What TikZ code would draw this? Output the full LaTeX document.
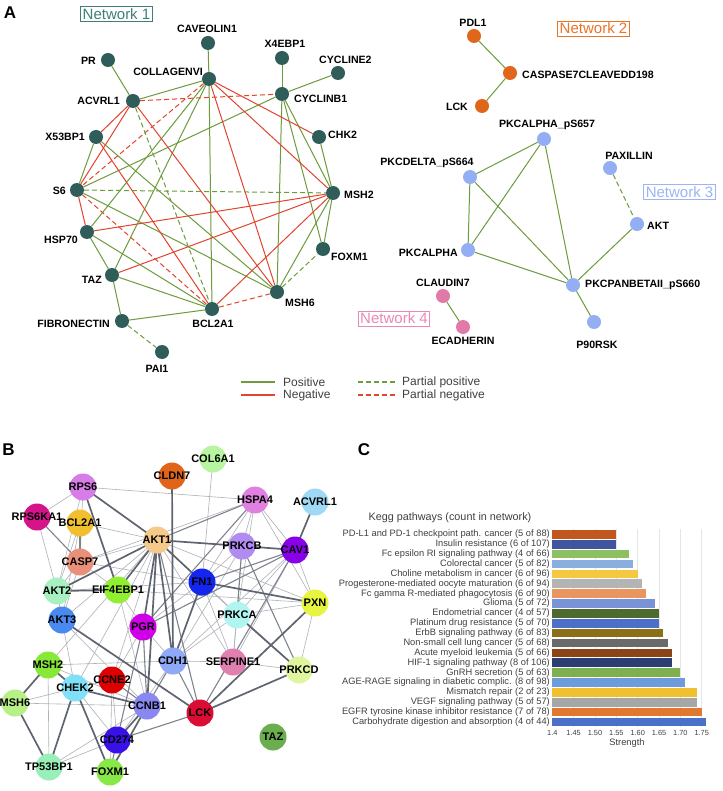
\documentclass[tikz,border=0pt]{standalone}
\usepackage{fontspec}
\setmainfont{Liberation Sans}
\usetikzlibrary{positioning}

\definecolor{tealnode}{HTML}{2F5D5A}
\definecolor{tealtext}{HTML}{3F7F7A}
\definecolor{posgreen}{HTML}{6E9B3C}
\definecolor{negred}{HTML}{E2442E}
\definecolor{orangenode}{HTML}{E0661C}
\definecolor{orangetext}{HTML}{E8742A}
\definecolor{bluenode}{HTML}{93AEF2}
\definecolor{bluetext}{HTML}{9BB5F5}
\definecolor{pinknode}{HTML}{E07BA9}
\definecolor{pinktext}{HTML}{E889B6}
\definecolor{edgegray}{HTML}{5E6470}
\definecolor{bartext}{HTML}{404040}

\tikzset{
  anode/.style={circle, fill={#1}, minimum size=14pt, inner sep=0pt},
  alab/.style={font=\fontsize{10.6}{11}\selectfont\bfseries, inner sep=0pt},
  netbox/.style={draw=#1, text=#1, line width=0.8pt, inner sep=2pt,
    font=\fontsize{15}{16}\selectfont},
  posedge/.style={draw=posgreen, line width=1pt},
  negedge/.style={draw=negred, line width=1pt},
  pposedge/.style={posedge, dash pattern=on 5pt off 3pt},
  pnegedge/.style={negedge, dash pattern=on 5pt off 3pt},
  bnode/.style={circle, fill={#1}, minimum size=27pt, inner sep=0pt},
  blab/.style={font=\fontsize{11}{11}\selectfont\bfseries},
  strong/.style={draw=edgegray, line width=1.7pt},
  mid/.style={draw=edgegray!80, line width=1.1pt},
  weak/.style={draw=edgegray!50, line width=0.6pt},
  panel/.style={font=\fontsize{17}{17}\selectfont\bfseries},
  ctext/.style={font=\fontsize{9.3}{9.3}\selectfont, text=bartext, inner sep=0pt},
  legtext/.style={anchor=west, inner sep=0pt, font=\fontsize{12}{12}\selectfont, text=bartext},
}

\begin{document}
\begin{tikzpicture}[x=1pt,y=-1pt]
  \useasboundingbox (0,0) rectangle (722,791);
  \fill[white] (0,0) rectangle (722,791);

  % ---- A: network 1
  \node[panel] (pa) at (10,12.5) {A};
  \node[netbox=tealtext] (net1) at (116.5,14) {Network 1};
  \node[anode=tealnode] (caveolin) at (208,43) {};
  \node[anode=tealnode] (pr) at (108,60) {};
  \node[anode=tealnode] (collagen) at (209,79) {};
  \node[anode=tealnode] (acvrl) at (133,101) {};
  \node[anode=tealnode] (xebp) at (282,58) {};
  \node[anode=tealnode] (cyclinetwo) at (338,73) {};
  \node[anode=tealnode] (cyclinb) at (282,94) {};
  \node[anode=tealnode] (chk) at (319,137) {};
  \node[anode=tealnode] (xbp) at (96,137) {};
  \node[anode=tealnode] (ssix) at (77,190) {};
  \node[anode=tealnode] (msh) at (333,193) {};
  \node[anode=tealnode] (hsp) at (87,232) {};
  \node[anode=tealnode] (foxm) at (323,249) {};
  \node[anode=tealnode] (taz) at (112,275) {};
  \node[anode=tealnode] (mshsix) at (277,292) {};
  \node[anode=tealnode] (bcl) at (212,309) {};
  \node[anode=tealnode] (fibro) at (122,321) {};
  \node[anode=tealnode] (pai) at (162,352) {};

  \node[alab] (lcaveolin) at (207,29) {CAVEOLIN1};
  \node[alab, anchor=east] (lpr) at (96,61) {PR};
  \node[alab, anchor=east] (lcollagen) at (203,72) {COLLAGENVI};
  \node[alab, anchor=east] (lacvrl) at (120,101) {ACVRL1};
  \node[alab] (lxebp) at (285,44) {X4EBP1};
  \node[alab, anchor=west] (lcyclinetwo) at (319,60) {CYCLINE2};
  \node[alab, anchor=west] (lcyclinb) at (294,99) {CYCLINB1};
  \node[alab, anchor=west] (lchk) at (328,135) {CHK2};
  \node[alab, anchor=east] (lxbp) at (85,137) {X53BP1};
  \node[alab, anchor=east] (lssix) at (66,191) {S6};
  \node[alab, anchor=west] (lmsh) at (344,195) {MSH2};
  \node[alab, anchor=east] (lhsp) at (78,240) {HSP70};
  \node[alab, anchor=west] (lfoxm) at (331,257) {FOXM1};
  \node[alab, anchor=east] (ltaz) at (102,280) {TAZ};
  \node[alab, anchor=west] (lmshsix) at (285,303) {MSH6};
  \node[alab] (lbcl) at (213,324) {BCL2A1};
  \node[alab, anchor=east] (lfibro) at (110,324) {FIBRONECTIN};
  \node[alab] (lpai) at (157,369) {PAI1};

  \draw[posedge] (caveolin) -- (collagen);
  \draw[posedge] (pr) -- (acvrl);
  \draw[posedge] (xebp) -- (cyclinb);
  \draw[posedge] (cyclinetwo) -- (cyclinb);
  \draw[posedge] (cyclinb) -- (ssix);
  \draw[posedge] (cyclinb) -- (mshsix);
  \draw[posedge] (cyclinb) -- (foxm);
  \draw[posedge] (cyclinb) -- (msh);
  \draw[posedge] (chk) -- (msh);
  \draw[posedge] (msh) -- (foxm);
  \draw[posedge] (collagen) -- (acvrl);
  \draw[posedge] (collagen) -- (bcl);
  \draw[posedge] (collagen) -- (hsp);
  \draw[posedge] (collagen) -- (taz);
  \draw[posedge] (xbp) -- (ssix);
  \draw[posedge] (xbp) -- (mshsix);
  \draw[posedge] (ssix) -- (mshsix);
  \draw[posedge] (hsp) -- (taz);
  \draw[posedge] (hsp) -- (bcl);
  \draw[posedge] (taz) -- (bcl);
  \draw[posedge] (taz) -- (fibro);
  \draw[posedge] (fibro) -- (bcl);
  \draw[posedge] (msh) -- (mshsix);
  \draw[negedge] (collagen) -- (chk);
  \draw[negedge] (collagen) -- (msh);
  \draw[negedge] (collagen) -- (mshsix);
  \draw[negedge] (acvrl) -- (xbp);
  \draw[negedge] (acvrl) -- (ssix);
  \draw[negedge] (acvrl) -- (mshsix);
  \draw[negedge] (xbp) -- (bcl);
  \draw[negedge] (ssix) -- (hsp);
  \draw[negedge] (hsp) -- (msh);
  \draw[negedge] (taz) -- (msh);
  \draw[negedge] (bcl) -- (msh);
  \draw[pnegedge] (acvrl) -- (cyclinb);
  \draw[pnegedge] (collagen) -- (ssix);
  \draw[pnegedge] (ssix) -- (bcl);
  \draw[pnegedge] (bcl) -- (mshsix);
  \draw[pposedge] (acvrl) -- (bcl);
  \draw[pposedge] (ssix) -- (msh);
  \draw[pposedge] (mshsix) -- (foxm);
  \draw[pposedge] (fibro) -- (pai);

  % ---- A: networks 2, 3, 4
  \node[netbox=orangetext] (net2) at (593.5,28.5) {Network 2};
  \node[anode=orangenode] (pdl) at (474,36) {};
  \node[anode=orangenode] (caspase) at (510,73) {};
  \node[anode=orangenode] (lck) at (482,106) {};
  \node[alab] (lpdl) at (473,23) {PDL1};
  \node[alab, anchor=west] (lcaspase) at (522,75) {CASPASE7CLEAVEDD198};
  \node[alab, anchor=east] (llck) at (468,107) {LCK};
  \draw[posedge] (pdl) -- (caspase);
  \draw[posedge] (caspase) -- (lck);

  \node[netbox=bluetext] (net3) at (679.5,192) {Network 3};
  \node[anode=bluenode] (pkcapsix) at (544,139) {};
  \node[anode=bluenode] (pkcd) at (470,177) {};
  \node[anode=bluenode] (paxillin) at (610,168) {};
  \node[anode=bluenode] (akt) at (637,224) {};
  \node[anode=bluenode] (pkca) at (468,250) {};
  \node[anode=bluenode] (pkcpan) at (573,285) {};
  \node[anode=bluenode] (prsk) at (594,322) {};
  \node[alab] (lpkcapsix) at (547,125) {PKCALPHA\_pS657};
  \node[alab] (lpkcd) at (427,163) {PKCDELTA\_pS664};
  \node[alab] (lpaxillin) at (629,156) {PAXILLIN};
  \node[alab, anchor=west] (lakt) at (647,226) {AKT};
  \node[alab, anchor=east] (lpkca) at (458,253) {PKCALPHA};
  \node[alab, anchor=west] (lpkcpan) at (585,285) {PKCPANBETAII\_pS660};
  \node[alab] (lprsk) at (597,345) {P90RSK};
  \draw[posedge] (pkcapsix) -- (pkcd);
  \draw[posedge] (pkcapsix) -- (pkca);
  \draw[posedge] (pkcapsix) -- (pkcpan);
  \draw[posedge] (pkcd) -- (pkca);
  \draw[posedge] (pkcd) -- (pkcpan);
  \draw[posedge] (pkca) -- (pkcpan);
  \draw[posedge] (akt) -- (pkcpan);
  \draw[posedge] (pkcpan) -- (prsk);
  \draw[pposedge] (paxillin) -- (akt);

  \node[netbox=pinktext] (net4) at (394,318.5) {Network 4};
  \node[anode=pinknode] (claudin) at (443,296) {};
  \node[anode=pinknode] (ecad) at (463,327) {};
  \node[alab] (lclaudin) at (443,283) {CLAUDIN7};
  \node[alab] (lecad) at (463,341) {ECADHERIN};
  \draw[posedge] (claudin) -- (ecad);

  % legend
  \draw[posedge, line width=1.4pt] (241,382) -- (275,382);
  \draw[negedge, line width=1.4pt] (241,395) -- (275,395);
  \draw[pposedge, line width=1.4pt, dash pattern=on 4.5pt off 3.5pt] (358,382) -- (397,382);
  \draw[pnegedge, line width=1.4pt, dash pattern=on 4.5pt off 3.5pt] (358,395) -- (397,395);
  \node[legtext] (lgpos) at (283,382) {Positive};
  \node[legtext] (lgneg) at (283,395) {Negative};
  \node[legtext] (lgppos) at (402,382) {Partial positive};
  \node[legtext] (lgpneg) at (402,395) {Partial negative};

  % ---- B: string network
  \node[panel] (pb) at (8.5,450) {B};
  \coordinate (brps6) at (83,487);
  \coordinate (bcol6a1) at (213,459);
  \coordinate (bcldn7) at (172,476);
  \coordinate (bhspa4) at (255,500);
  \coordinate (bacvrl1) at (315,502);
  \coordinate (brps6ka1) at (37,517);
  \coordinate (bbcl2a1) at (80,523);
  \coordinate (bakt1) at (157,540);
  \coordinate (bprkcb) at (242,546);
  \coordinate (bcav1) at (295,550);
  \coordinate (bcasp7) at (80,562);
  \coordinate (bfn1) at (202,582);
  \coordinate (bakt2) at (57,591);
  \coordinate (beif4ebp1) at (118,590);
  \coordinate (bpxn) at (315,603);
  \coordinate (bakt3) at (62,620);
  \coordinate (bprkca) at (237,615);
  \coordinate (bpgr) at (143,627);
  \coordinate (bcdh1) at (173,661);
  \coordinate (bserpine1) at (233,662);
  \coordinate (bprkcd) at (299,670);
  \coordinate (bmsh2) at (48,665);
  \coordinate (bchek2) at (75,688);
  \coordinate (bccne2) at (112,680);
  \coordinate (bmsh6) at (15,703);
  \coordinate (bccnb1) at (147,706);
  \coordinate (blck) at (200,713);
  \coordinate (btaz) at (273,737);
  \coordinate (bcd274) at (117,740);
  \coordinate (btp53bp1) at (49,767);
  \coordinate (bfoxm1) at (110,772);

  \draw[weak] (brps6) -- (bhspa4);
  \draw[weak] (brps6) -- (brps6ka1);
  \draw[weak] (brps6) -- (bcasp7);
  \draw[weak] (brps6) -- (bakt2);
  \draw[weak] (bbcl2a1) -- (bakt1);
  \draw[weak] (bbcl2a1) -- (bakt2);
  \draw[weak] (bbcl2a1) -- (bakt3);
  \draw[weak] (brps6ka1) -- (bakt2);
  \draw[weak] (bhspa4) -- (bprkcb);
  \draw[weak] (bhspa4) -- (bcav1);
  \draw[weak] (bhspa4) -- (bprkca);
  \draw[weak] (bhspa4) -- (bpxn);
  \draw[weak] (bhspa4) -- (bcasp7);
  \draw[weak] (bhspa4) -- (bfn1);
  \draw[weak] (bcol6a1) -- (bfn1);
  \draw[weak] (bakt1) -- (bcasp7);
  \draw[weak] (bakt1) -- (bakt3);
  \draw[weak] (bakt1) -- (bchek2);
  \draw[weak] (bakt1) -- (bccne2);
  \draw[weak] (bakt1) -- (bserpine1);
  \draw[weak] (bakt1) -- (bpxn);
  \draw[weak] (bakt1) -- (bprkca);
  \draw[weak] (bakt1) -- (bmsh2);
  \draw[weak] (bcasp7) -- (beif4ebp1);
  \draw[weak] (bcasp7) -- (bakt3);
  \draw[weak] (bcasp7) -- (bfn1);
  \draw[weak] (bfn1) -- (bakt2);
  \draw[weak] (bfn1) -- (bserpine1);
  \draw[weak] (bfn1) -- (bprkcd);
  \draw[weak] (bfn1) -- (bpgr);
  \draw[weak] (beif4ebp1) -- (bpxn);
  \draw[weak] (beif4ebp1) -- (bpgr);
  \draw[weak] (beif4ebp1) -- (bccnb1);
  \draw[weak] (bcav1) -- (bprkca);
  \draw[weak] (bcav1) -- (bcdh1);
  \draw[weak] (bcav1) -- (bpxn);
  \draw[weak] (bcav1) -- (bserpine1);
  \draw[weak] (bprkcb) -- (bfn1);
  \draw[weak] (bprkcb) -- (bcdh1);
  \draw[weak] (bprkcb) -- (bserpine1);
  \draw[weak] (bpxn) -- (bprkcd);
  \draw[weak] (bpxn) -- (bprkca);
  \draw[weak] (bprkca) -- (bcdh1);
  \draw[weak] (bprkca) -- (bserpine1);
  \draw[weak] (bpgr) -- (bcdh1);
  \draw[weak] (bpgr) -- (bccne2);
  \draw[weak] (bcdh1) -- (bserpine1);
  \draw[weak] (bcdh1) -- (bmsh2);
  \draw[weak] (bcdh1) -- (bcd274);
  \draw[weak] (bserpine1) -- (bprkcd);
  \draw[weak] (bmsh2) -- (btp53bp1);
  \draw[weak] (bmsh2) -- (bccnb1);
  \draw[weak] (bchek2) -- (bmsh6);
  \draw[weak] (bchek2) -- (bccne2);
  \draw[weak] (bchek2) -- (bcd274);
  \draw[weak] (bmsh6) -- (bccnb1);
  \draw[weak] (bccne2) -- (bcd274);
  \draw[weak] (bccne2) -- (bfoxm1);
  \draw[weak] (bccnb1) -- (btp53bp1);
  \draw[weak] (bcd274) -- (btp53bp1);
  \draw[weak] (bakt2) -- (bakt3);
  \draw[weak] (bakt2) -- (bcasp7);
  \draw[weak] (bakt3) -- (bccnb1);
  \draw[weak] (bakt3) -- (bchek2);
  \draw[mid] (bhspa4) -- (bakt1);
  \draw[mid] (bhspa4) -- (bpgr);
  \draw[mid] (bbcl2a1) -- (bcasp7);
  \draw[mid] (brps6ka1) -- (bcasp7);
  \draw[mid] (bcav1) -- (bfn1);
  \draw[mid] (bcav1) -- (bpgr);
  \draw[mid] (bcav1) -- (blck);
  \draw[mid] (bprkcb) -- (bprkca);
  \draw[mid] (bprkcb) -- (bprkcd);
  \draw[mid] (bakt1) -- (blck);
  \draw[mid] (bpgr) -- (bccnb1);
  \draw[mid] (bpgr) -- (bcd274);
  \draw[mid] (bcdh1) -- (bccnb1);
  \draw[mid] (bcdh1) -- (blck);
  \draw[mid] (blck) -- (bcd274);
  \draw[mid] (bccne2) -- (bccnb1);
  \draw[mid] (bcd274) -- (bfoxm1);
  \draw[strong] (brps6) -- (bakt1);
  \draw[strong] (brps6) -- (beif4ebp1);
  \draw[strong] (bakt1) -- (bprkcb);
  \draw[strong] (bprkcb) -- (bcav1);
  \draw[strong] (bacvrl1) -- (bcav1);
  \draw[strong] (bakt2) -- (beif4ebp1);
  \draw[strong] (bakt1) -- (bakt2);
  \draw[strong] (bakt1) -- (beif4ebp1);
  \draw[strong] (bakt1) -- (bpgr);
  \draw[strong] (bakt1) -- (bcdh1);
  \draw[strong] (bakt1) -- (bccnb1);
  \draw[strong] (bakt1) -- (bfn1);
  \draw[strong] (bcldn7) -- (bcdh1);
  \draw[strong] (bfn1) -- (bpxn);
  \draw[strong] (bfn1) -- (bcdh1);
  \draw[strong] (bpxn) -- (blck);
  \draw[strong] (bprkca) -- (bprkcd);
  \draw[strong] (bprkcd) -- (blck);
  \draw[strong] (bakt3) -- (blck);
  \draw[strong] (bmsh2) -- (bmsh6);
  \draw[strong] (bmsh2) -- (bchek2);
  \draw[strong] (bchek2) -- (bccnb1);
  \draw[strong] (bchek2) -- (btp53bp1);
  \draw[strong] (bchek2) -- (bfoxm1);
  \draw[strong] (bmsh6) -- (btp53bp1);
  \draw[strong] (bccnb1) -- (bcd274);
  \draw[strong] (bccnb1) -- (bfoxm1);

  \node[bnode={rgb,255:red,214;green,125;blue,232}] (nrps6) at (brps6) [label={[blab]center:RPS6}] {};
  \node[bnode={rgb,255:red,184;green,245;blue,160}] (ncol6a1) at (bcol6a1) [label={[blab]center:COL6A1}] {};
  \node[bnode={rgb,255:red,224;green,101;blue,26}] (ncldn7) at (bcldn7) [label={[blab]center:CLDN7}] {};
  \node[bnode={rgb,255:red,224;green,128;blue,224}] (nhspa4) at (bhspa4) [label={[blab]center:HSPA4}] {};
  \node[bnode={rgb,255:red,159;green,217;blue,245}] (nacvrl1) at (bacvrl1) [label={[blab]center:ACVRL1}] {};
  \node[bnode={rgb,255:red,213;green,20;blue,138}] (nrps6ka1) at (brps6ka1) [label={[blab]center:RPS6KA1}] {};
  \node[bnode={rgb,255:red,240;green,192;blue,48}] (nbcl2a1) at (bbcl2a1) [label={[blab]center:BCL2A1}] {};
  \node[bnode={rgb,255:red,245;green,201;blue,138}] (nakt1) at (bakt1) [label={[blab]center:AKT1}] {};
  \node[bnode={rgb,255:red,176;green,140;blue,240}] (nprkcb) at (bprkcb) [label={[blab]center:PRKCB}] {};
  \node[bnode={rgb,255:red,136;green,0;blue,232}] (ncav1) at (bcav1) [label={[blab]center:CAV1}] {};
  \node[bnode={rgb,255:red,232;green,144;blue,122}] (ncasp7) at (bcasp7) [label={[blab]center:CASP7}] {};
  \node[bnode={rgb,255:red,21;green,37;blue,240}] (nfn1) at (bfn1) [label={[blab]center:FN1}] {};
  \node[bnode={rgb,255:red,168;green,240;blue,192}] (nakt2) at (bakt2) [label={[blab]center:AKT2}] {};
  \node[bnode={rgb,255:red,144;green,240;blue,48}] (neif4ebp1) at (beif4ebp1) [label={[blab]center:EIF4EBP1}] {};
  \node[bnode={rgb,255:red,232;green,245;blue,64}] (npxn) at (bpxn) [label={[blab]center:PXN}] {};
  \node[bnode={rgb,255:red,74;green,138;blue,240}] (nakt3) at (bakt3) [label={[blab]center:AKT3}] {};
  \node[bnode={rgb,255:red,176;green,245;blue,240}] (nprkca) at (bprkca) [label={[blab]center:PRKCA}] {};
  \node[bnode={rgb,255:red,208;green,0;blue,232}] (npgr) at (bpgr) [label={[blab]center:PGR}] {};
  \node[bnode={rgb,255:red,144;green,168;blue,248}] (ncdh1) at (bcdh1) [label={[blab]center:CDH1}] {};
  \node[bnode={rgb,255:red,224;green,128;blue,176}] (nserpine1) at (bserpine1) [label={[blab]center:SERPINE1}] {};
  \node[bnode={rgb,255:red,224;green,245;blue,160}] (nprkcd) at (bprkcd) [label={[blab]center:PRKCD}] {};
  \node[bnode={rgb,255:red,136;green,232;blue,56}] (nmsh2) at (bmsh2) [label={[blab]center:MSH2}] {};
  \node[bnode={rgb,255:red,128;green,224;blue,248}] (nchek2) at (bchek2) [label={[blab]center:CHEK2}] {};
  \node[bnode={rgb,255:red,221;green,0;blue,0}] (nccne2) at (bccne2) [label={[blab]center:CCNE2}] {};
  \node[bnode={rgb,255:red,184;green,240;blue,136}] (nmsh6) at (bmsh6) [label={[blab]center:MSH6}] {};
  \node[bnode={rgb,255:red,136;green,136;blue,240}] (nccnb1) at (bccnb1) [label={[blab]center:CCNB1}] {};
  \node[bnode={rgb,255:red,221;green,12;blue,53}] (nlck) at (blck) [label={[blab]center:LCK}] {};
  \node[bnode={rgb,255:red,106;green,174;blue,80}] (ntaz) at (btaz) [label={[blab]center:TAZ}] {};
  \node[bnode={rgb,255:red,58;green,16;blue,232}] (ncd274) at (bcd274) [label={[blab]center:CD274}] {};
  \node[bnode={rgb,255:red,152;green,240;blue,184}] (ntp53bp1) at (btp53bp1) [label={[blab]center:TP53BP1}] {};
  \node[bnode={rgb,255:red,136;green,232;blue,72}] (nfoxm1) at (bfoxm1) [label={[blab]center:FOXM1}] {};

  % ---- C: kegg bar chart
  \node[panel] (pc) at (364,450) {C};
  \node[ctext, font=\fontsize{10.8}{11}\selectfont] (ctitle) at (450,518) {Kegg pathways (count in network)};
  \begin{scope}[xshift=-45.5pt, x=427pt]
    \draw[gray!20, line width=0.6pt] (1.45,529) -- (1.45,727);
    \draw[gray!20, line width=0.6pt] (1.50,529) -- (1.50,727);
    \draw[gray!20, line width=0.6pt] (1.55,529) -- (1.55,727);
    \draw[gray!20, line width=0.6pt] (1.60,529) -- (1.60,727);
    \draw[gray!20, line width=0.6pt] (1.65,529) -- (1.65,727);
    \draw[gray!20, line width=0.6pt] (1.70,529) -- (1.70,727);
    \draw[gray!20, line width=0.6pt] (1.75,529) -- (1.75,727);
    \fill[fill={rgb,255:red,192;green,88;blue,30}] (1.4,530.0) rectangle (1.55,538.6);
    \fill[fill={rgb,255:red,63;green,85;blue,158}] (1.4,539.9) rectangle (1.55,548.5);
    \fill[fill={rgb,255:red,141;green,192;blue,99}] (1.4,549.8) rectangle (1.58,558.4);
    \fill[fill={rgb,255:red,138;green,174;blue,224}] (1.4,559.6) rectangle (1.59,568.2);
    \fill[fill={rgb,255:red,245;green,200;blue,66}] (1.4,569.5) rectangle (1.60,578.1);
    \fill[fill={rgb,255:red,180;green,180;blue,180}] (1.4,579.4) rectangle (1.61,588.0);
    \fill[fill={rgb,255:red,232;green,149;blue,94}] (1.4,589.3) rectangle (1.62,597.9);
    \fill[fill={rgb,255:red,122;green,147;blue,214}] (1.4,599.2) rectangle (1.64,607.8);
    \fill[fill={rgb,255:red,78;green,106;blue,46}] (1.4,609.0) rectangle (1.65,617.6);
    \fill[fill={rgb,255:red,76;green,111;blue,200}] (1.4,618.9) rectangle (1.65,627.5);
    \fill[fill={rgb,255:red,139;green,112;blue,24}] (1.4,628.8) rectangle (1.66,637.4);
    \fill[fill={rgb,255:red,106;green,106;blue,106}] (1.4,638.7) rectangle (1.67,647.3);
    \fill[fill={rgb,255:red,138;green,68;blue,22}] (1.4,648.6) rectangle (1.68,657.2);
    \fill[fill={rgb,255:red,43;green,63;blue,112}] (1.4,658.4) rectangle (1.68,667.0);
    \fill[fill={rgb,255:red,127;green,176;blue,80}] (1.4,668.3) rectangle (1.70,676.9);
    \fill[fill={rgb,255:red,110;green,156;blue,219}] (1.4,678.2) rectangle (1.71,686.8);
    \fill[fill={rgb,255:red,240;green,192;blue,48}] (1.4,688.1) rectangle (1.74,696.7);
    \fill[fill={rgb,255:red,166;green,166;blue,166}] (1.4,698.0) rectangle (1.74,706.6);
    \fill[fill={rgb,255:red,224;green,120;blue,48}] (1.4,707.8) rectangle (1.75,716.4);
    \fill[fill={rgb,255:red,74;green,112;blue,200}] (1.4,717.7) rectangle (1.76,726.3);
    \node[ctext, font=\fontsize{7.4}{7.4}\selectfont] (t140) at (1.40,733) {1.4};
    \node[ctext, font=\fontsize{7.4}{7.4}\selectfont] (t145) at (1.45,733) {1.45};
    \node[ctext, font=\fontsize{7.4}{7.4}\selectfont] (t150) at (1.50,733) {1.50};
    \node[ctext, font=\fontsize{7.4}{7.4}\selectfont] (t155) at (1.55,733) {1.55};
    \node[ctext, font=\fontsize{7.4}{7.4}\selectfont] (t160) at (1.60,733) {1.60};
    \node[ctext, font=\fontsize{7.4}{7.4}\selectfont] (t165) at (1.65,733) {1.65};
    \node[ctext, font=\fontsize{7.4}{7.4}\selectfont] (t170) at (1.70,733) {1.70};
    \node[ctext, font=\fontsize{7.4}{7.4}\selectfont] (t175) at (1.75,733) {1.75};
  \end{scope}
  \node[ctext] (strength) at (627,743) {Strength};
  \node[ctext, anchor=east] (k1) at (550,534.3) {PD-L1 and PD-1 checkpoint path. cancer (5 of 88)};
  \node[ctext, anchor=east] (k2) at (550,544.2) {Insulin resistance (6 of 107)};
  \node[ctext, anchor=east] (k3) at (550,554.1) {Fc epsilon RI signaling pathway (4 of 66)};
  \node[ctext, anchor=east] (k4) at (550,563.9) {Colorectal cancer (5 of 82)};
  \node[ctext, anchor=east] (k5) at (550,573.8) {Choline metabolism in cancer (6 of 96)};
  \node[ctext, anchor=east] (k6) at (550,583.7) {Progesterone-mediated oocyte maturation (6 of 94)};
  \node[ctext, anchor=east] (k7) at (550,593.6) {Fc gamma R-mediated phagocytosis (6 of 90)};
  \node[ctext, anchor=east] (k8) at (550,603.5) {Glioma (5 of 72)};
  \node[ctext, anchor=east] (k9) at (550,613.3) {Endometrial cancer (4 of 57)};
  \node[ctext, anchor=east] (k10) at (550,623.2) {Platinum drug resistance (5 of 70)};
  \node[ctext, anchor=east] (k11) at (550,633.1) {ErbB signaling pathway (6 of 83)};
  \node[ctext, anchor=east] (k12) at (550,643.0) {Non-small cell lung cancer (5 of 68)};
  \node[ctext, anchor=east] (k13) at (550,652.9) {Acute myeloid leukemia (5 of 66)};
  \node[ctext, anchor=east] (k14) at (550,662.7) {HIF-1 signaling pathway (8 of 106)};
  \node[ctext, anchor=east] (k15) at (550,672.6) {GnRH secretion (5 of 63)};
  \node[ctext, anchor=east] (k16) at (550,682.5) {AGE-RAGE signaling in diabetic complic. (8 of 98)};
  \node[ctext, anchor=east] (k17) at (550,692.4) {Mismatch repair (2 of 23)};
  \node[ctext, anchor=east] (k18) at (550,702.3) {VEGF signaling pathway (5 of 57)};
  \node[ctext, anchor=east] (k19) at (550,712.1) {EGFR tyrosine kinase inhibitor resistance (7 of 78)};
  \node[ctext, anchor=east] (k20) at (550,722.0) {Carbohydrate digestion and absorption (4 of 44)};
\end{tikzpicture}
\end{document}
